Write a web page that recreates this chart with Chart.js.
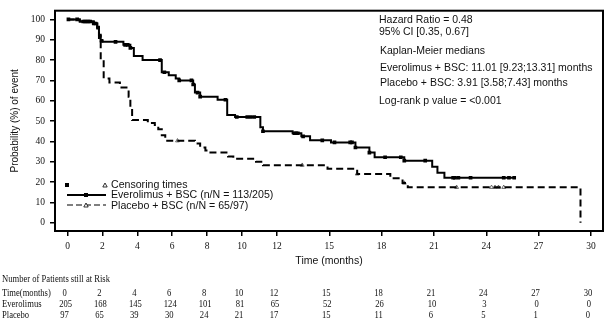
<!DOCTYPE html>
<html>
<head>
<meta charset="utf-8">
<script src="https://cdn.jsdelivr.net/npm/chart.js@4.4.1/dist/chart.umd.min.js"></script>
<style>
  html, body { margin: 0; padding: 0; background: #fff; }
</style>
</head>
<body>
<canvas id="kmChart" width="614" height="327"></canvas>
<script>
// KM curve: Everolimus + BSC (time in months, % without event)
const everoTime = [0, 0.7, 1.5, 1.7, 1.8, 1.9, 2.0, 3.2, 3.6, 3.8, 4.3, 5.4, 5.8, 6.2, 6.4, 7.2, 7.3, 7.6, 8.6, 9.15, 9.6, 11.05, 11.2, 12.9, 13.4, 13.9, 15.1, 16.5, 17.3, 17.6, 19.3, 20.9, 21.2, 21.6, 25.7];
const everoSurv = [100, 99, 98, 96, 92, 89.5, 89, 87.5, 86, 82, 80, 74, 72.5, 71, 70, 68, 64, 62, 60.5, 53, 52, 47, 45, 44, 42.5, 40.5, 39.5, 37, 34.5, 32.2, 30.5, 27.5, 24.6, 22.1, 22.1];
const everoCensor = [0.05, 0.55, 0.9, 1.0, 1.1, 1.2, 1.3, 1.5, 1.6, 1.75, 1.85, 1.95, 2.75, 3.3, 3.45, 3.6, 5.3, 5.55, 6.4, 7.1, 7.2, 7.45, 7.6, 9.05, 9.7, 10.3, 10.5, 10.7, 11.2, 13.0, 13.1, 13.2, 13.5, 14.6, 15.3, 16.2, 16.3, 16.5, 17.3, 18.2, 19.1, 19.3, 20.5, 22.1, 22.2, 22.4, 23.1, 25.0, 25.3, 25.6];

// KM curve: Placebo + BSC
const placeboTime = [0, 0.7, 1.5, 1.7, 1.8, 1.9, 2.07, 2.4, 3.0, 3.5, 3.6, 3.7, 4.6, 5.0, 5.2, 5.4, 5.6, 7.3, 7.6, 7.9, 8.1, 9.2, 9.5, 10.8, 11.2, 14.9, 16.6, 18.5, 19.2, 19.5, 29.4];
const placeboSurv = [100, 99, 98, 96, 90, 80, 71, 69, 66.5, 62, 56, 50.5, 49, 48, 46, 43, 40.3, 39, 37, 35.5, 34.5, 32.5, 31.4, 30, 28.3, 26.5, 24, 21.8, 19.5, 17.4, 0];
const placeboCensor = [6.3, 13.45, 16.6, 19.3, 22.3, 24.3, 24.5, 24.7, 25.0];

// axis ticks
const xTicks = [0, 2, 4, 6, 8, 10, 12, 15, 18, 21, 24, 27, 30];
const yTicks = [0, 10, 20, 30, 40, 50, 60, 70, 80, 90, 100];

// number at risk table
const riskTimes = [0, 2, 4, 6, 8, 10, 12, 15, 18, 21, 24, 27, 30];
const riskEvero = [205, 168, 145, 124, 101, 81, 65, 52, 26, 10, 3, 0, 0];
const riskPlacebo = [97, 65, 39, 30, 24, 21, 17, 15, 11, 6, 5, 1, 0];

const statsLines = [
  "Hazard Ratio = 0.48",
  "95% CI [0.35, 0.67]",
  "Kaplan-Meier medians",
  "Everolimus + BSC: 11.01 [9.23;13.31] months",
  "Placebo + BSC: 3.91 [3.58;7.43] months",
  "Log-rank p value = <0.001",
];

// value of a step curve at time t
function survAt(times, surv, t) {
  let v = surv[0];
  for (let i = 0; i < times.length; i++) {
    if (times[i] <= t) v = surv[i];
  }
  return v;
}

const toPoints = (xs, ys) => xs.map((x, i) => ({ x: x, y: ys[i] }));
const censorPoints = (ct, times, surv) => ct.map(t => ({ x: t, y: survAt(times, surv, t) }));

const SANS = "'Liberation Sans', Arial, sans-serif";
const SERIF = "'Liberation Serif', 'Times New Roman', serif";

// narrow serif text for the risk table
function narrowText(c, s, x, y) {
  c.save();
  c.translate(x, y);
  c.scale(0.78, 1);
  c.fillText(s, 0, 0);
  c.restore();
}

// frame, legend, stats text and the risk table
const extras = {
  id: "extras",
  afterDraw(chart) {
    const c = chart.ctx;
    const a = chart.chartArea;
    const xs = chart.scales.x;
    c.save();
    c.strokeStyle = "#000";
    c.lineWidth = 2;
    c.strokeRect(a.left, a.top, a.right - a.left, a.bottom - a.top);

    // stats box text
    c.fillStyle = "#111";
    c.font = "10.5px " + SANS;
    c.textBaseline = "middle";
    c.textAlign = "left";
    const statY = [20, 32, 51, 68, 83, 101];
    statsLines.forEach((s, i) => c.fillText(s, i >= 2 && i <= 4 ? 380 : 379, statY[i]));

    // legend
    c.fillStyle = "#000";
    c.fillRect(65, 183, 4, 4);
    c.lineWidth = 0.8;
    c.beginPath();
    c.moveTo(105, 183); c.lineTo(107.2, 187); c.lineTo(102.8, 187); c.closePath();
    c.stroke();
    c.lineWidth = 2;
    c.beginPath(); c.moveTo(67, 195); c.lineTo(106, 195); c.stroke();
    c.fillRect(84, 193, 4, 4);
    c.setLineDash([6, 3]);
    c.lineWidth = 1.2;
    c.beginPath(); c.moveTo(67, 205); c.lineTo(106, 205); c.stroke();
    c.setLineDash([]);
    c.lineWidth = 0.8;
    c.beginPath();
    c.moveTo(86, 203); c.lineTo(88.2, 207); c.lineTo(83.8, 207); c.closePath();
    c.fillStyle = "#fff"; c.fill(); c.stroke();
    c.fillStyle = "#111";
    c.font = "10.6px " + SANS;
    c.fillText("Censoring times", 111, 185);
    c.fillText("Everolimus + BSC (n/N = 113/205)", 111, 195);
    c.fillText("Placebo + BSC (n/N = 65/97)", 111, 206);

    // number at risk
    c.font = "11px " + SERIF;
    narrowText(c, "Number of Patients still at Risk", 2, 279);
    narrowText(c, "Time(months)", 2, 293);
    narrowText(c, "Everolimus", 2, 304);
    narrowText(c, "Placebo", 2, 315);
    c.textAlign = "center";
    riskTimes.forEach((t, i) => {
      const px = xs.getPixelForValue(t) - 3;
      narrowText(c, String(t), px, 293);
      narrowText(c, String(riskEvero[i]), px + 1, 304);
      narrowText(c, String(riskPlacebo[i]), px, 315);
    });
    c.restore();
  },
};

new Chart(document.getElementById("kmChart"), {
  type: "line",
  data: {
    datasets: [
      {
        data: toPoints(everoTime, everoSurv),
        borderColor: "#000",
        borderWidth: 2,
        stepped: true,
        pointRadius: 0,
      },
      {
        data: toPoints(placeboTime, placeboSurv),
        borderColor: "#000",
        borderWidth: 2,
        borderDash: [7, 4],
        stepped: true,
        pointRadius: 0,
      },
      {
        data: censorPoints(everoCensor, everoTime, everoSurv),
        showLine: false,
        pointStyle: "rect",
        pointRadius: 2.6,
        backgroundColor: "#000",
        borderColor: "#000",
        borderWidth: 0,
      },
      {
        data: censorPoints(placeboCensor, placeboTime, placeboSurv),
        showLine: false,
        pointStyle: "triangle",
        pointRadius: 2.2,
        backgroundColor: "#fff",
        borderColor: "#444",
        borderWidth: 0.8,
      },
    ],
  },
  options: {
    responsive: false,
    animation: false,
    devicePixelRatio: 1,
    layout: { padding: { left: 0, right: 11, top: 5, bottom: 59 } },
    plugins: { legend: { display: false }, tooltip: { enabled: false } },
    scales: {
      x: {
        type: "linear",
        min: -0.72,
        max: 30.69,
        afterBuildTicks: (s) => { s.ticks = xTicks.map(v => ({ value: v })); },
        afterFit: (s) => { s.height = 37; },
        border: { display: false },
        grid: { drawOnChartArea: false, drawTicks: true, tickLength: 5, color: "#000", lineWidth: 1.5 },
        ticks: { font: { family: SERIF, size: 9.5 }, color: "#111", padding: 5, maxRotation: 0, autoSkip: false },
        title: { display: true, text: "Time (months)", font: { family: SANS, size: 10.5 }, color: "#111", padding: { top: 0, bottom: 1 } },
      },
      y: {
        min: -4.1,
        max: 104.3,
        afterBuildTicks: (s) => { s.ticks = yTicks.map(v => ({ value: v })); },
        afterFit: (s) => { s.width = 55; },
        border: { display: false },
        grid: { drawOnChartArea: false, drawTicks: true, tickLength: 5, color: "#000", lineWidth: 1.5 },
        ticks: { font: { family: SERIF, size: 9.5 }, color: "#111", padding: 5 },
        title: { display: true, text: "Probability (%) of event", font: { family: SANS, size: 10 }, color: "#111", padding: { top: 9, bottom: 0 } },
      },
    },
  },
  plugins: [extras],
});
</script>
</body>
</html>
